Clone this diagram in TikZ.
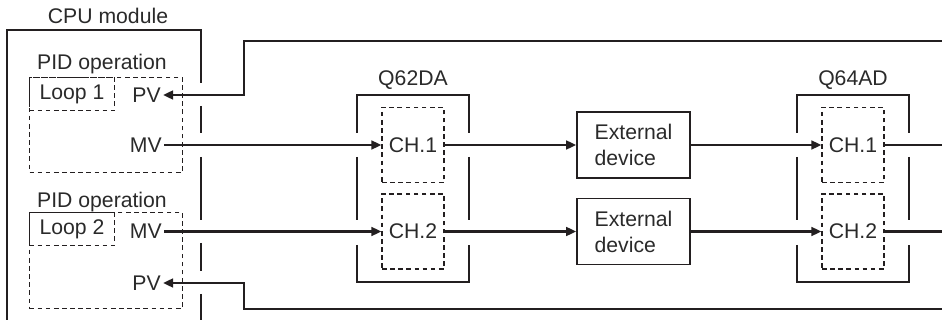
\documentclass[tikz,border=0pt]{standalone}
\usepackage{fontspec}
\setmainfont{Liberation Sans}
\usepackage{xcolor}
\usetikzlibrary{arrows.meta,positioning,calc}
\definecolor{inkline}{HTML}{231F20}
\definecolor{inktext}{HTML}{2A2A2A}
\tikzset{
lbl/.style={font=\fontsize{15.9}{19.5}\selectfont,text=inktext,inner sep=1.5pt},
wire/.style={draw=inkline,line width=1.75pt},
sig/.style={wire,-{Triangle[length=7.5pt,width=6.5pt]}},
frame/.style={draw=inkline,line width=1.15pt},
dashbox/.style={draw=inkline,line width=0.8pt,dash pattern=on 3.5pt off 2.6pt},
pidbox/.style={dashbox,inner sep=0pt,anchor=north west,minimum width=114.75pt},
loopbox/.style={dashbox,lbl,anchor=north west,minimum width=63.75pt,minimum height=24.75pt},
chbox/.style={dashbox,lbl,minimum width=46.5pt,minimum height=56.25pt},
devbox/.style={frame,lbl,align=left,minimum width=84.75pt,minimum height=49.5pt}
}
\begin{document}
\begin{tikzpicture}[x=0.75pt,y=-0.75pt]
\useasboundingbox (0,0) rectangle (942,320);
% CPU module
\node[lbl] (cpu) at (108,15.5) {CPU module};
\draw[frame](7,320)--(7,30)--(201,30)--(201,83)
(201,106)--(201,133) (201,157)--(201,220)
(201,243)--(201,271) (201,294)--(201,320);
% PID operations
\node[lbl] (pidl1) at (102,64) {PID operation};
\node[pidbox,minimum height=71.25pt] (pid1) at (29,77) {};
\node[loopbox] (loop1) at (pid1.north west) {Loop 1};
\node[lbl] (pidl2) at (102,202) {PID operation};
\node[pidbox,minimum height=72pt] (pid2) at (29,212) {};
\node[loopbox] (loop2) at (pid2.north west) {Loop 2};
\node[lbl,anchor=east] (pv1) at (163,95) {PV};
\node[lbl,anchor=east] (mv1) at (164,145) {MV};
\node[lbl,anchor=east] (mv2) at (164,231.5) {MV};
\node[lbl,anchor=east] (pv2) at (163,283) {PV};
% Q62DA and Q64AD
\foreach \xl/\xr in {357/469,797/909}{
\draw[frame](\xl,133)--(\xl,95)--(\xr,95)--(\xr,133)
(\xl,157)--(\xl,220) (\xr,157)--(\xr,220)
(\xl,245)--(\xl,282)--(\xr,282)--(\xr,245);
}
\node[lbl] (q62) at (413,80) {Q62DA};
\node[lbl] (q64) at (853,80) {Q64AD};
\node[chbox] (da1) at (413,145) {CH.1};
\node[chbox] (da2) at (413,231.5) {CH.2};
\node[chbox] (ad1) at (853,145) {CH.1};
\node[chbox] (ad2) at (853,231.5) {CH.2};
% external devices
\node[devbox] (dev1) at (633.5,145) {External\\device};
\node[devbox] (dev2) at (633.5,231.5) {External\\device};
% connections
\draw[sig](mv1.east)--(da1.west);
\draw[sig](mv2.east)--(da2.west);
\draw[sig](da1.east)--(dev1.west);
\draw[sig](da2.east)--(dev2.west);
\draw[sig](dev1.east)--(ad1.west);
\draw[sig](dev2.east)--(ad2.west);
\coordinate (out1) at (942,145);
\coordinate (out2) at (942,231.5);
\draw[wire](ad1.east)--(out1);
\draw[wire](ad2.east)--(out2);
\coordinate (rtop) at (942,41);
\coordinate (ktop) at (244,41);
\draw[sig](rtop)--(ktop)|-(pv1.east);
\coordinate (rbot) at (942,309);
\coordinate (kbot) at (244,309);
\draw[sig](rbot)--(kbot)|-(pv2.east);
\end{tikzpicture}
\end{document}
